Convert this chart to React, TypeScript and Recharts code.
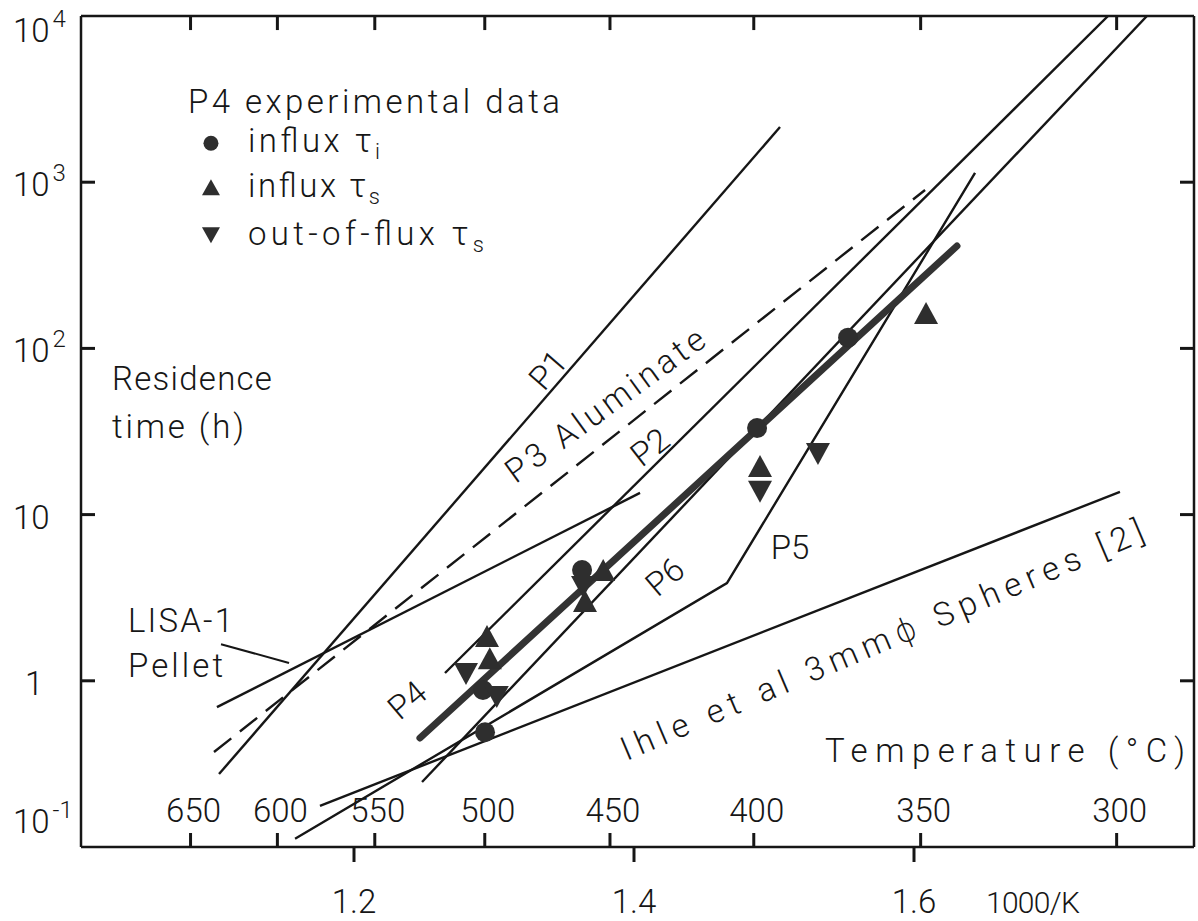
import React from "react";
import { ComposedChart, Line, Scatter, XAxis, YAxis, ReferenceDot, ReferenceLine } from "recharts";

// 1000/K axis ticks, Celsius ticks, residence-time decades
const invKTicks = [1.2, 1.4, 1.6];
const celsiusTicks = [650, 600, 550, 500, 450, 400, 350, 300];
const decades = [0.1, 1, 10, 100, 1000, 10000];

// fitted lines (x = 1000/K, y = residence time in h)
const p1Line = [{ x: 1.1036, y: 0.275 }, { x: 1.5043, y: 2148 }];
const p3Line = [{ x: 1.1, y: 0.373 }, { x: 1.6079, y: 898 }];
const lisaLine = [{ x: 1.1021, y: 0.695 }, { x: 1.4043, y: 13.5 }];
const p2Line = [{ x: 1.265, y: 1.114 }, { x: 1.7386, y: 10000 }];
const p6Line = [{ x: 1.2486, y: 0.246 }, { x: 1.7664, y: 10000 }];
const p4Line = [{ x: 1.2471, y: 0.453 }, { x: 1.6307, y: 413 }];
const p5Line = [{ x: 1.1579, y: 0.112 }, { x: 1.4664, y: 3.87 }, { x: 1.6436, y: 1136 }];
const ihleLine = [{ x: 1.1757, y: 0.177 }, { x: 1.7471, y: 13.7 }];
const lisaPointer = [{ x: 1.105, y: 1.66 }, { x: 1.1536, y: 1.28 }];

// P4 experimental data
const influxTi = [
  { x: 1.2936, y: 0.49 },
  { x: 1.2921, y: 0.88 },
  { x: 1.3629, y: 4.64 },
  { x: 1.4879, y: 33.2 },
  { x: 1.5529, y: 116 },
];
const influxTs = [
  { x: 1.295, y: 1.81 },
  { x: 1.297, y: 1.33 },
  { x: 1.365, y: 2.94 },
  { x: 1.378, y: 4.52 },
  { x: 1.49, y: 19.1 },
  { x: 1.6086, y: 159 },
];
const outOfFluxTs = [
  { x: 1.28, y: 1.13 },
  { x: 1.302, y: 0.82 },
  { x: 1.3636, y: 3.77 },
  { x: 1.49, y: 14.1 },
  { x: 1.5314, y: 23.8 },
];

// curve labels drawn along the lines
const curveLabels = [
  { text: "P1", x: 1.3386, y: 74.1, angle: -49, len: 0 },
  { text: "P3 Aluminate", x: 1.3793, y: 45.6, angle: -36, len: 238 },
  { text: "P2", x: 1.4114, y: 25.5, angle: -38, len: 0 },
  { text: "P4", x: 1.2379, y: 0.766, angle: -40, len: 0 },
  { text: "P6", x: 1.4221, y: 4.22, angle: -40, len: 0 },
  { text: "P5", x: 1.5114, y: 6.38, angle: 0, len: 0 },
  { text: "Ihle et al 3mmϕ Spheres [2]", x: 1.5771, y: 1.76, angle: -23, len: 565 },
];

const X_MIN = 1.005;
const X_MAX = 1.8;
const Y_MIN = 0.1;
const Y_MAX = 10000;
const INK = "#161616";
const MARK = "#2e2e2e";
const FONT = "Roboto, 'DejaVu Sans', sans-serif";
const txt = { fill: INK, fontFamily: FONT, fontWeight: 300, fontSize: 33 } as const;

// tick stroke lengths expressed in axis units (about 14-15 px)
const TICK_DEC = 1.215;
const TICK_X = 0.01;

const toCelsius = (v: number) => Math.round(1000 / v - 273.15);
const celsiusPos = celsiusTicks.map((c) => 1000 / (c + 273.15));

const Dot = (p: any) => <circle cx={p.cx} cy={p.cy} r={10} fill={MARK} />;
const TriUp = (p: any) => (
  <polygon points={`${p.cx},${p.cy - 13} ${p.cx - 12},${p.cy + 9} ${p.cx + 12},${p.cy + 9}`} fill={MARK} />
);
const TriDown = (p: any) => (
  <polygon points={`${p.cx},${p.cy + 13} ${p.cx - 12},${p.cy - 9} ${p.cx + 12},${p.cy - 9}`} fill={MARK} />
);

function YTick(props: any) {
  const { x, y, payload } = props;
  const e = Math.round(Math.log10(payload.value));
  const base = e === 4 ? y + 26 : e === -1 ? y - 14 : y + 14;
  if (e === 0) return <text x={x - 56} y={base} {...txt}>1</text>;
  return (
    <text x={x - 68} y={base} {...txt}>
      10
      {e !== 1 && (
        <tspan dx={3} dy={-15} fontSize={24}>
          {e}
        </tspan>
      )}
    </text>
  );
}

const KTick = (p: any) => (
  <g>
    <path d={`M${p.x},${p.y} v15`} stroke={INK} strokeWidth={3} />
    <text x={p.x} y={p.y + 66} textAnchor="middle" {...txt}>
      {p.payload.value.toFixed(1)}
    </text>
  </g>
);

const CTick = (p: any) => (
  <g>
    <path d={`M${p.x},${p.y} v-14`} stroke={INK} strokeWidth={3} />
    <text x={p.x + 3} y={p.y - 25} textAnchor="middle" {...txt}>
      {toCelsius(p.payload.value)}
    </text>
  </g>
);

const Sub = ({ c }: { c: string }) => (
  <>
    τ
    <tspan dy={7} fontSize={22}>
      {c}
    </tspan>
  </>
);

function LegendBlock(p: any) {
  const { cx, cy } = p;
  return (
    <g>
      <text x={cx} y={cy} textLength={372} lengthAdjust="spacing" {...txt}>P4 experimental data</text>
      <circle cx={cx + 23} cy={cy + 30} r={7.5} fill={MARK} />
      <text x={cx + 60} y={cy + 39} textLength={132} lengthAdjust="spacing" {...txt}>
        influx <Sub c="i" />
      </text>
      <polygon points={`${cx + 23},${cy + 66} ${cx + 14},${cy + 82} ${cx + 32},${cy + 82}`} fill={MARK} />
      <text x={cx + 60} y={cy + 84} textLength={132} lengthAdjust="spacing" {...txt}>
        influx <Sub c="s" />
      </text>
      <polygon points={`${cx + 23},${cy + 130} ${cx + 14},${cy + 114} ${cx + 32},${cy + 114}`} fill={MARK} />
      <text x={cx + 60} y={cy + 132} textLength={236} lengthAdjust="spacing" {...txt}>
        out-of-flux <Sub c="s" />
      </text>
    </g>
  );
}

const TwoLines = (a: string, b: string, la: number, lb: number, gap: number) => (p: any) => (
  <g>
    <text x={p.cx} y={p.cy} textLength={la} lengthAdjust="spacing" {...txt}>{a}</text>
    <text x={p.cx} y={p.cy + gap} textLength={lb} lengthAdjust="spacing" {...txt}>{b}</text>
  </g>
);

const OneLine = (s: string, len: number, dy = 0, size = 33) => (p: any) => (
  <text x={p.cx} y={p.cy + dy} textLength={len} lengthAdjust="spacing" {...txt} fontSize={size}>{s}</text>
);

const Rotated = (s: string, angle: number, len: number) => (p: any) => (
  <text
    x={p.cx}
    y={p.cy}
    textAnchor="middle"
    dominantBaseline="central"
    transform={`rotate(${angle} ${p.cx} ${p.cy})`}
    {...(len ? { textLength: len, lengthAdjust: "spacing" } : {})}
    {...txt}
  >
    {s}
  </text>
);

const lineProps = { type: "linear" as const, dataKey: "y", dot: false, activeDot: false, isAnimationActive: false, stroke: INK, strokeWidth: 2.4 };
const frame = { stroke: INK, strokeWidth: 2.5 };
const ids = { xAxisId: "k", yAxisId: "h" };
const tickSeg = { ...ids, ifOverflow: "visible" as const, stroke: INK, strokeWidth: 3 };

export default function App() {
  return (
    <div style={{ position: "absolute", left: 0, top: 0, width: 1198, height: 921, background: "#fff" }}>
      <ComposedChart width={1198} height={921} margin={{ top: 16, right: 4, bottom: 0, left: 0 }}>
        <XAxis
          xAxisId="k"
          type="number"
          dataKey="x"
          domain={[X_MIN, X_MAX]}
          allowDataOverflow
          ticks={invKTicks}
          interval={0}
          tick={<KTick />}
          tickSize={0}
          tickMargin={0}
          tickLine={false}
          height={74}
          axisLine={frame}
        />
        <XAxis
          xAxisId="c"
          type="number"
          dataKey="x"
          domain={[X_MIN, X_MAX]}
          allowDataOverflow
          mirror
          ticks={celsiusPos}
          interval={0}
          tick={<CTick />}
          tickSize={0}
          tickMargin={0}
          tickLine={false}
          height={60}
          axisLine={false}
        />
        <XAxis
          xAxisId="t"
          orientation="top"
          type="number"
          dataKey="x"
          domain={[X_MIN, X_MAX]}
          allowDataOverflow
          mirror
          tick={false}
          tickLine={false}
          height={20}
          axisLine={frame}
        />
        <YAxis
          yAxisId="h"
          type="number"
          dataKey="y"
          scale="log"
          domain={[Y_MIN, Y_MAX]}
          allowDataOverflow
          ticks={decades}
          interval={0}
          tick={<YTick />}
          tickSize={0}
          tickMargin={0}
          tickLine={false}
          width={81}
          axisLine={frame}
        />
        <YAxis
          yAxisId="r"
          orientation="right"
          type="number"
          dataKey="y"
          scale="log"
          domain={[Y_MIN, Y_MAX]}
          allowDataOverflow
          mirror
          tick={false}
          tickLine={false}
          width={20}
          axisLine={frame}
        />

        {/* tick strokes on the top, left and right frame */}
        {celsiusPos.map((v) => (
          <ReferenceLine key={`ct${v}`} {...tickSeg} segment={[{ x: v, y: Y_MAX }, { x: v, y: Y_MAX / TICK_DEC }]} />
        ))}
        {decades.slice(1, -1).map((d) => (
          <ReferenceLine key={`yl${d}`} {...tickSeg} segment={[{ x: X_MIN, y: d }, { x: X_MIN + TICK_X, y: d }]} />
        ))}
        {decades.slice(1, -1).map((d) => (
          <ReferenceLine key={`yr${d}`} {...tickSeg} segment={[{ x: X_MAX, y: d }, { x: X_MAX - TICK_X, y: d }]} />
        ))}

        <Line {...lineProps} {...ids} data={p1Line} />
        <Line {...lineProps} {...ids} data={p3Line} strokeDasharray="22 11" />
        <Line {...lineProps} {...ids} data={lisaLine} />
        <Line {...lineProps} {...ids} data={p2Line} />
        <Line {...lineProps} {...ids} data={p6Line} />
        <Line {...lineProps} {...ids} data={p5Line} />
        <Line {...lineProps} {...ids} data={ihleLine} />
        <Line {...lineProps} {...ids} data={lisaPointer} strokeWidth={2} />
        <Line {...lineProps} {...ids} data={p4Line} stroke="#333" strokeWidth={7} strokeLinecap="round" />

        <Scatter {...ids} data={influxTi} shape={Dot} isAnimationActive={false} />
        <Scatter {...ids} data={influxTs} shape={TriUp} isAnimationActive={false} />
        <Scatter {...ids} data={outOfFluxTs} shape={TriDown} isAnimationActive={false} />

        {curveLabels.map((c) => (
          <ReferenceDot key={c.text} {...ids} x={c.x} y={c.y} shape={Rotated(c.text, c.angle, c.len)} />
        ))}
        <ReferenceDot {...ids} x={1.0814} y={2600} shape={LegendBlock} />
        <ReferenceDot {...ids} x={1.0271} y={56.2} shape={TwoLines("Residence", "time (h)", 160, 132, 48)} />
        <ReferenceDot {...ids} x={1.0386} y={1.97} shape={TwoLines("LISA-1", "Pellet", 105, 95, 45)} />
        <ReferenceDot {...ids} x={1.5364} y={0.324} shape={OneLine("Temperature (°C)", 360)} />
        <ReferenceDot {...ids} ifOverflow="visible" x={1.6514} y={0.1} shape={OneLine("1000/K", 94, 66, 30)} />
      </ComposedChart>
    </div>
  );
}
